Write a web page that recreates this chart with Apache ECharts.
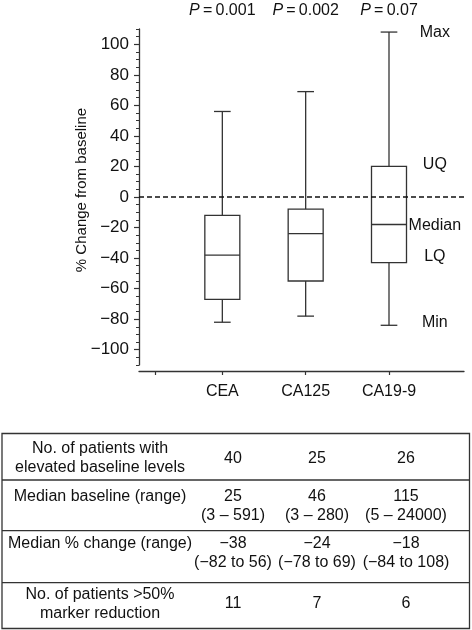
<!DOCTYPE html>
<html>
<head>
<meta charset="utf-8">
<script src="https://cdn.jsdelivr.net/npm/echarts@6/dist/echarts.min.js"></script>
<style>
html,body{margin:0;padding:0;background:#fff;}
#chart{width:472px;height:630px;}
</style>
</head>
<body>
<div id="chart"></div>
<script>
// ---- data ----
const categories = ['CEA', 'CA125', 'CA19-9'];
const categoryX = [1, 2, 3];
const minValues = [-82, -78, -84];
const q1Values = [-67, -55, -43];
const medianValues = [-38, -24, -18];
const q3Values = [-12, -8, 20];
const maxValues = [56, 69, 108];
const pValues = ['0.001', '0.002', '0.07'];
const yMajorTicks = [-100, -80, -60, -40, -20, 0, 20, 40, 60, 80, 100];
const yMinorTicks = [];
for (let v = -110; v <= 110; v += 5) yMinorTicks.push(v);
const xTicks = [0.2, 1, 2, 3];
const annotationNames = ['Max', 'UQ', 'Median', 'LQ', 'Min'];
const annotationY = [107.5, 21, -19, -39, -82.5];
const annotationX = 3.55;

const tableRowLabels = [
  ['No. of patients with', 'elevated baseline levels'],
  ['Median baseline (range)'],
  ['Median % change (range)'],
  ['No. of patients >50%', 'marker reduction']
];
const tableValues = [
  [['40'], ['25'], ['26']],
  [['25', '(3 \u2013 591)'], ['46', '(3 \u2013 280)'], ['115', '(5 \u2013 24000)']],
  [['\u221238', '(\u221282 to 56)'], ['\u221224', '(\u221278 to 69)'], ['\u221218', '(\u221284 to 108)']],
  [['11'], ['7'], ['6']]
];

// ---- build ----
const FONT = '"Liberation Sans", Arial, Helvetica, sans-serif';
const INK = '#111';
const LINE = '#333';
const boxData = categoryX.map((x, i) => [x, minValues[i], q1Values[i], medianValues[i], q3Values[i], maxValues[i]]);
const annData = annotationNames.map((n, i) => [annotationX, annotationY[i], n]);
const minus = v => String(v).replace('-', '\u2212');

// table layout
const tableTop = 433.5, tableBottom = 628.5, tableLeft = 2, tableRight = 469.5;
const rowLines = [480, 530.7, 582.7];
const rowCenters = [458.5, 506.5, 553, 604];
const colX = [100, 233, 317, 406];
const lineH = 19;
const tableGraphics = [];
tableGraphics.push({ type: 'rect', shape: { x: tableLeft, y: tableTop, width: tableRight - tableLeft, height: tableBottom - tableTop },
  style: { fill: 'none', stroke: LINE, lineWidth: 1.3 } });
rowLines.forEach(y => tableGraphics.push({ type: 'line', shape: { x1: tableLeft, y1: y, x2: tableRight, y2: y },
  style: { stroke: LINE, lineWidth: 1.3 } }));
tableRowLabels.forEach((lines, r) => {
  const maxLines = Math.max(lines.length, ...tableValues[r].map(c => c.length));
  const top = rowCenters[r] - (maxLines - 1) * lineH / 2;
  lines.forEach((t, k) => tableGraphics.push({ type: 'text', x: colX[0], y: top + k * lineH,
    style: { text: t, fill: INK, font: '16px ' + FONT, textAlign: 'center', textVerticalAlign: 'middle' } }));
  tableValues[r].forEach((cell, c) => {
    const t0 = rowCenters[r] - (cell.length - 1) * lineH / 2;
    cell.forEach((t, k) => tableGraphics.push({ type: 'text', x: colX[c + 1], y: t0 + k * lineH,
      style: { text: t, fill: INK, font: '16px ' + FONT, textAlign: 'center', textVerticalAlign: 'middle' } }));
  });
});

const chart = echarts.init(document.getElementById('chart'), null, { renderer: 'canvas' });
chart.setOption({
  animation: false,
  backgroundColor: '#fff',
  textStyle: { fontFamily: FONT, color: INK },
  grid: { left: 139, right: 8, top: 29, bottom: 265, containLabel: false },
  xAxis: [{
    type: 'value', position: 'bottom', min: 0, max: 3.9, offset: 6,
    axisLine: { show: true, onZero: false, lineStyle: { color: LINE, width: 1.3 } },
    axisTick: { show: true, customValues: xTicks, length: 4, lineStyle: { color: LINE, width: 1.2 } },
    axisLabel: { show: true, customValues: categoryX, margin: 13, fontSize: 16, color: INK, fontFamily: FONT,
      formatter: v => categories[Math.round(v) - 1] || '' },
    splitLine: { show: false }
  }, {
    type: 'value', position: 'top', min: 0, max: 3.9,
    axisLine: { show: false, onZero: false }, axisTick: { show: false }, splitLine: { show: false },
    axisLabel: { show: true, customValues: categoryX, margin: 10, fontSize: 16, color: INK, fontFamily: FONT,
      formatter: v => '{i|P}\u2009=\u20090' + pValues[Math.round(v) - 1].slice(1),
      rich: { i: { fontStyle: 'italic', fontSize: 16, fontFamily: FONT, color: INK } } }
  }],
  yAxis: [{
    type: 'value', position: 'left', min: -110, max: 110,
    name: '% Change from baseline', nameLocation: 'middle', nameGap: 50, nameRotate: 90,
    nameMoveOverlap: false,
    nameTextStyle: { fontSize: 15, color: INK, fontFamily: FONT, padding: [0, 0, 0, 14] },
    axisLine: { show: true, onZero: false, lineStyle: { color: LINE, width: 1.3 } },
    axisTick: { show: true, customValues: yMajorTicks, length: 5, lineStyle: { color: LINE, width: 1.2 } },
    axisLabel: { show: true, customValues: yMajorTicks, margin: 10, fontSize: 17, color: INK, fontFamily: FONT,
      formatter: v => minus(v) },
    splitLine: { show: false }
  }, {
    type: 'value', position: 'left', offset: 0, min: -110, max: 110,
    axisLine: { show: false, onZero: false },
    axisTick: { show: true, customValues: yMinorTicks, length: 3, lineStyle: { color: LINE, width: 1 } },
    axisLabel: { show: false }, splitLine: { show: false }
  }],
  series: [{
    type: 'custom',
    xAxisIndex: 0, yAxisIndex: 0,
    data: boxData,
    encode: { x: 0, y: [1, 2, 3, 4, 5] },
    clip: false,
    renderItem: function (params, api) {
      const x = api.value(0);
      const pMin = api.coord([x, api.value(1)]);
      const pQ1 = api.coord([x, api.value(2)]);
      const pMed = api.coord([x, api.value(3)]);
      const pQ3 = api.coord([x, api.value(4)]);
      const pMax = api.coord([x, api.value(5)]);
      const bw = api.size([0.42, 0])[0];
      const cw = api.size([0.2, 0])[0];
      const cx = pMed[0];
      const st = { stroke: LINE, lineWidth: 1.3, fill: null };
      return {
        type: 'group',
        children: [
          { type: 'line', shape: { x1: cx, y1: pQ3[1], x2: cx, y2: pMax[1] }, style: st },
          { type: 'line', shape: { x1: cx - cw / 2, y1: pMax[1], x2: cx + cw / 2, y2: pMax[1] }, style: st },
          { type: 'line', shape: { x1: cx, y1: pQ1[1], x2: cx, y2: pMin[1] }, style: st },
          { type: 'line', shape: { x1: cx - cw / 2, y1: pMin[1], x2: cx + cw / 2, y2: pMin[1] }, style: st },
          { type: 'rect', shape: { x: cx - bw / 2, y: pQ3[1], width: bw, height: pQ1[1] - pQ3[1] },
            style: { stroke: LINE, lineWidth: 1.3, fill: '#fff' } },
          { type: 'line', shape: { x1: cx - bw / 2, y1: pMed[1], x2: cx + bw / 2, y2: pMed[1] }, style: st }
        ]
      };
    },
    z: 3
  }, {
    type: 'scatter',
    xAxisIndex: 0, yAxisIndex: 0,
    data: annData,
    symbolSize: 0,
    silent: true,
    itemStyle: { opacity: 1 },
    label: { show: true, position: 'inside', formatter: p => p.data[2], fontSize: 16, color: INK,
      fontFamily: FONT, opacity: 1 },
    markLine: {
      silent: true, symbol: 'none', label: { show: false },
      lineStyle: { type: [5, 3], color: '#111', width: 1.5 },
      data: [{ yAxis: 0 }]
    },
    z: 2
  }],
  graphic: tableGraphics
});
</script>
</body>
</html>
